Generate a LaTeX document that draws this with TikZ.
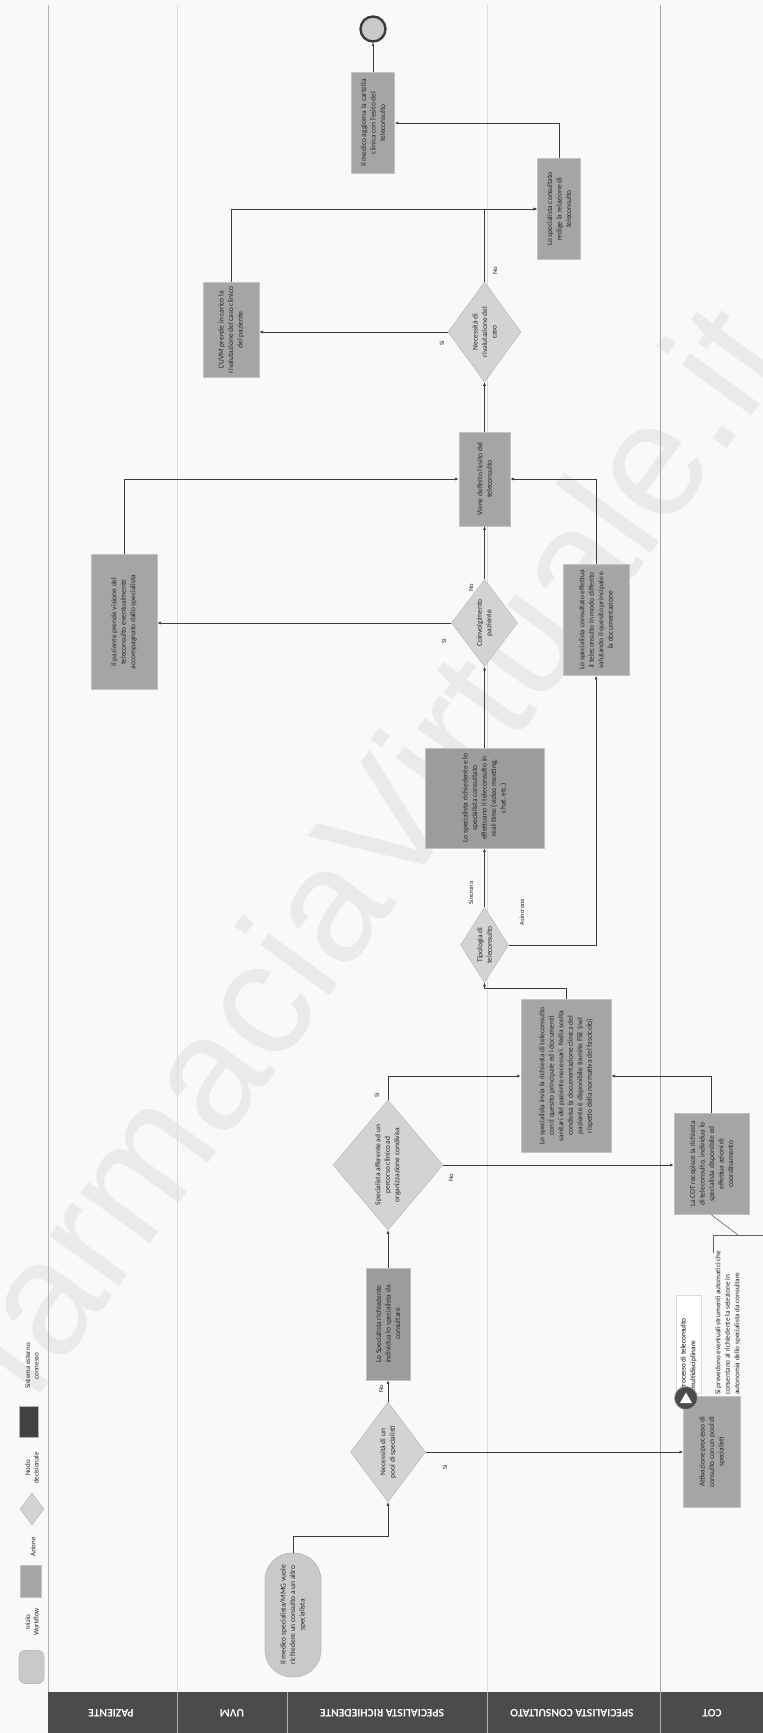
\documentclass[tikz,border=0pt]{standalone}
\usepackage{fontspec}
\setmainfont{Carlito}
\newfontfamily\wmfont{Liberation Sans}
\usetikzlibrary{shapes.geometric,arrows.meta,calc}
\definecolor{bg}{HTML}{F9F9F9}
\definecolor{actfill}{HTML}{A5A5A5}
\definecolor{actdark}{HTML}{9C9C9C}
\definecolor{actdraw}{HTML}{C2C2C2}
\definecolor{decfill}{HTML}{D3D3D3}
\definecolor{decdraw}{HTML}{BDBDBD}
\definecolor{startfill}{HTML}{C9C9C9}
\definecolor{hdr}{HTML}{4B4B4B}
\definecolor{lnc}{HTML}{3C3C3C}
\definecolor{lanec}{HTML}{DCDCDC}
\definecolor{wmc}{HTML}{EAEAEA}
\definecolor{sysc}{HTML}{424242}
\definecolor{txc}{HTML}{262626}
\newcommand\vt[2]{\rotatebox{90}{\parbox{#1}{\centering\fontsize{7.5}{9.5}\selectfont #2}}}
\newcommand\vtl[2]{\rotatebox{90}{\parbox{#1}{\raggedright\fontsize{7.3}{9.6}\selectfont #2}}}
\newcommand\rr[1]{\rotatebox{90}{#1}}
\begin{document}
\begin{tikzpicture}[x=1pt,y=-1pt,
  act/.style={rectangle, fill=actfill, draw=actdraw, line width=0.8pt, inner sep=1pt, text=txc},
  dec/.style={diamond, fill=decfill, draw=decdraw, line width=0.6pt, inner sep=0pt, text=txc},
  conn/.style={draw=lnc, line width=0.6pt, -{Latex[length=3.5pt,width=3pt]}},
  lbl/.style={inner sep=0pt, font=\fontsize{6.5}{7}\selectfont, text=txc},
  lgd/.style={inner sep=0pt, font=\fontsize{7}{8.5}\selectfont, text=txc},
  hdrtxt/.style={inner sep=0pt, text=white, font=\fontsize{11.5}{12}\selectfont\bfseries},
  lane/.style={draw=lanec, line width=0.6pt},
  annot/.style={draw=lnc!80, line width=0.6pt}
]
\useasboundingbox (0,0) rectangle (763,1733);
\fill[bg] (0,0) rectangle (763,1733);

% watermark
\node[inner sep=0pt, text=wmc, font=\wmfont\fontsize{162}{162}\selectfont] (wm) at (366,848) {\rotatebox{54}{farmaciaVirtuale.it}};

% lanes
\draw[draw=gray!60, line width=0.7pt] (48,5) -- (48,1692);
\draw[lane] (177,5) -- (177,1692);
\draw[lane] (487,5) -- (487,1692);
\draw[draw=gray!70, line width=0.7pt] (660,5) -- (660,1692);

% header
\fill[hdr] (48,1692) rectangle (763,1733);
\foreach \xx in {177,287,487,660} \draw[white!55!hdr, line width=0.7pt] (\xx,1692) -- (\xx,1733);
\node[hdrtxt] (h1) at (111,1713) {\rotatebox{180}{PAZIENTE}};
\node[hdrtxt] (h2) at (232,1713) {\rotatebox{180}{UVM}};
\node[hdrtxt] (h3) at (382,1713) {\rotatebox{180}{SPECIALISTA RICHIEDENTE}};
\node[hdrtxt] (h4) at (572,1713) {\rotatebox{180}{SPECIALISTA CONSULTATO}};
\node[hdrtxt] (h5) at (712,1713) {\rotatebox{180}{COT}};

% legend
\node[rectangle, rounded corners=6pt, fill=startfill, draw=decdraw, line width=0.6pt, minimum width=25pt, minimum height=33pt] (lg1) at (31.5,1667) {};
\node[lgd] (lg1t) at (32,1622) {\rotatebox{90}{\parbox{40pt}{\centering Inizio\\Workflow}}};
\node[act, minimum width=21pt, minimum height=32pt] (lg2) at (31,1581) {};
\node[lgd] (lg2t) at (33,1547) {\rr{Azione}};
\node[dec, minimum width=24pt, minimum height=32pt] (lg3) at (32,1509) {};
\node[lgd] (lg3t) at (32,1468) {\rotatebox{90}{\parbox{45pt}{\centering Nodo\\decisionale}}};
\node[rectangle, fill=sysc, draw=gray!60, minimum width=19pt, minimum height=31pt] (lg4) at (29,1422) {};
\node[lgd] (lg4t) at (32,1366) {\rotatebox{90}{\parbox{66pt}{\centering Sistema esterno\\connesso}}};

% nodes
\node[rectangle, rounded corners=27pt, fill=startfill, draw=decdraw, line width=0.8pt, inner sep=1pt, text=txc, minimum width=56pt, minimum height=124pt] (start) at (293,1615) {\vt{100pt}{Il medico specialista/MMG vuole richiedere un consulto a un altro specialista}};

\node[dec, shape aspect=0.75, minimum width=75pt, minimum height=100pt] (pool) at (388,1452) {\vt{60pt}{Necessità di un pool di specialisti}};

\node[act, minimum width=44pt, minimum height=112pt, fill=actdark] (individua) at (388,1324) {\vt{100pt}{Lo Specialista richiedente individua lo specialista da consultare}};

\node[dec, shape aspect=0.85, minimum width=110pt, minimum height=130pt] (afferente) at (388,1165) {\vt{86pt}{Specialista afferente ad un percorso clinico ad organizzazione condivisa}};

\node[act, minimum width=90pt, minimum height=153pt] (invia) at (566,1076) {\vt{140pt}{Lo specialista invia la richiesta di teleconsulto con il quesito principale ed i documenti sanitari del paziente necessari. Nella scelta condivisa la documentazione clinica del paziente è disponibile tramite FSE (nel rispetto della normativa del fascicolo)}};

\node[act, minimum width=75pt, minimum height=101pt] (cotind) at (711.5,1164) {\vt{92pt}{La COT recepisce la richiesta di teleconsulto, individua lo specialista disponibile ed effettua azioni di coordinamento}};

\node[act, minimum width=57pt, minimum height=111pt] (attiv) at (712,1452) {\vt{95pt}{Attivazione processo di consulto con un pool di specialisti}};

\node[dec, shape aspect=0.64, minimum width=48pt, minimum height=75pt] (tipologia) at (484.5,945) {\vt{42pt}{Tipologia di teleconsulto}};

\node[act, minimum width=119pt, minimum height=100pt, fill=actdark] (realtime) at (484.5,798) {\vt{90pt}{Lo specialista richiedente e lo specialista consultato effettuano il teleconsulto in real-time (video meeting, chat, etc.)}};

\node[act, minimum width=66pt, minimum height=111pt] (differito) at (596,620) {\vt{100pt}{Lo specialista consultato effettua il teleconsulto in modo differito valutando il quesito principale e la documentazione}};

\node[dec, shape aspect=0.76, minimum width=66pt, minimum height=87pt] (coinv) at (484.5,623) {\vt{55pt}{Coinvolgimento paziente}};

\node[act, minimum width=66pt, minimum height=135pt] (paziente) at (124,622) {\vt{122pt}{Il paziente prende visione del teleconsulto eventualmente accompagnato dallo specialista}};

\node[act, minimum width=51pt, minimum height=94pt] (esito) at (484.5,479) {\vt{85pt}{Viene definito l'esito del teleconsulto}};

\node[dec, shape aspect=0.73, minimum width=73pt, minimum height=100pt] (rival) at (484.5,332) {\vt{60pt}{Necessità di rivalutazione del caso}};

\node[act, minimum width=56pt, minimum height=95pt] (uvm) at (231,330) {\vt{88pt}{L'UVM prende in carico la rivalutazione del caso clinico del paziente}};

\node[act, minimum width=43pt, minimum height=101pt] (relazione) at (559,209) {\vt{92pt}{Lo specialista consultato redige la relazione di teleconsulto}};

\node[act, minimum width=43pt, minimum height=101pt] (aggiorna) at (373,123) {\vt{92pt}{Il medico aggiorna la cartella clinica con l'esito del teleconsulto}};

\node[circle, fill=startfill, draw=lnc, line width=2.4pt, minimum size=25pt, inner sep=0pt] (end) at (373,29) {};

% annotations (COT)
\node[rectangle, fill=white, draw=lanec, line width=0.6pt, minimum width=25pt, minimum height=98pt, inner sep=1pt] (proc) at (688.5,1344) {\vtl{92pt}{Processo di teleconsulto multidisciplinare}};
\node[circle, fill=hdr, draw=gray!70, line width=0.8pt, minimum size=23pt, inner sep=0pt] (icon) at (686,1398) {};
\fill[white] (680,1403) -- (692,1403) -- (686,1392.5) -- cycle;

\coordinate (brA) at (738,1235);
\coordinate (brB) at (763,1235);
\coordinate (brC) at (713,1235);
\coordinate (brD) at (713,1253);
\draw[annot] (cotind.south) -- (brA);
\draw[annot] (brB) -- (brC) -- (brD);
\node[inner sep=0pt, anchor=south west, text=txc] (note) at (715,1395) {\vtl{144pt}{Si prevedono eventuali strumenti automatici che consentano al richiedente la selezione in autonomia dello specialista da consultare}};

% connectors
\draw[conn] (start.north) -- ++(0,-16) -| (pool.south);
\draw[conn] (pool.north) -- (individua.south);
\draw[conn] (pool.east) -- (attiv.west);
\draw[conn] (individua.north) -- (afferente.south);
\draw[conn] (afferente.north) |- (invia.west);
\draw[conn] (afferente.east) -- (afferente.east -| cotind.west);
\draw[conn] (cotind.north) |- (invia.east);
\draw[conn] (invia.north) -- ++(0,-11) -| (tipologia.south);
\draw[conn] (tipologia.north) -- (realtime.south);
\draw[conn] (tipologia.east) -| (differito.south);
\draw[conn] (realtime.north) -- (coinv.south);
\draw[conn] (differito.north) |- (esito.east);
\draw[conn] (coinv.north) -- (esito.south);
\draw[conn] (coinv.west) -- (coinv.west -| paziente.east);
\draw[conn] (paziente.north) |- (esito.west);
\draw[conn] (esito.north) -- (rival.south);
\draw[conn] (rival.west) -- (rival.west -| uvm.east);
\draw[conn] (rival.north) |- (relazione.west);
\draw[conn] (uvm.north) |- (relazione.west);
\draw[conn] (relazione.north) |- (aggiorna.east);
\draw[conn] (aggiorna.north) -- (end.south);

% connector labels
\node[lbl] (l1) at (381,1389) {\rr{No}};
\node[lbl] (l2) at (445,1467) {\rr{Sì}};
\node[lbl] (l3) at (377,1095) {\rr{Sì}};
\node[lbl] (l4) at (451,1178) {\rr{No}};
\node[lbl] (l5) at (471,893) {\rr{Sincrona}};
\node[lbl] (l6) at (522,912) {\rr{Asincrona}};
\node[lbl] (l7) at (471,588) {\rr{No}};
\node[lbl] (l8) at (444,641) {\rr{Sì}};
\node[lbl] (l9) at (442,343) {\rr{Sì}};
\node[lbl] (l10) at (495,271) {\rr{No}};
\end{tikzpicture}
\end{document}
